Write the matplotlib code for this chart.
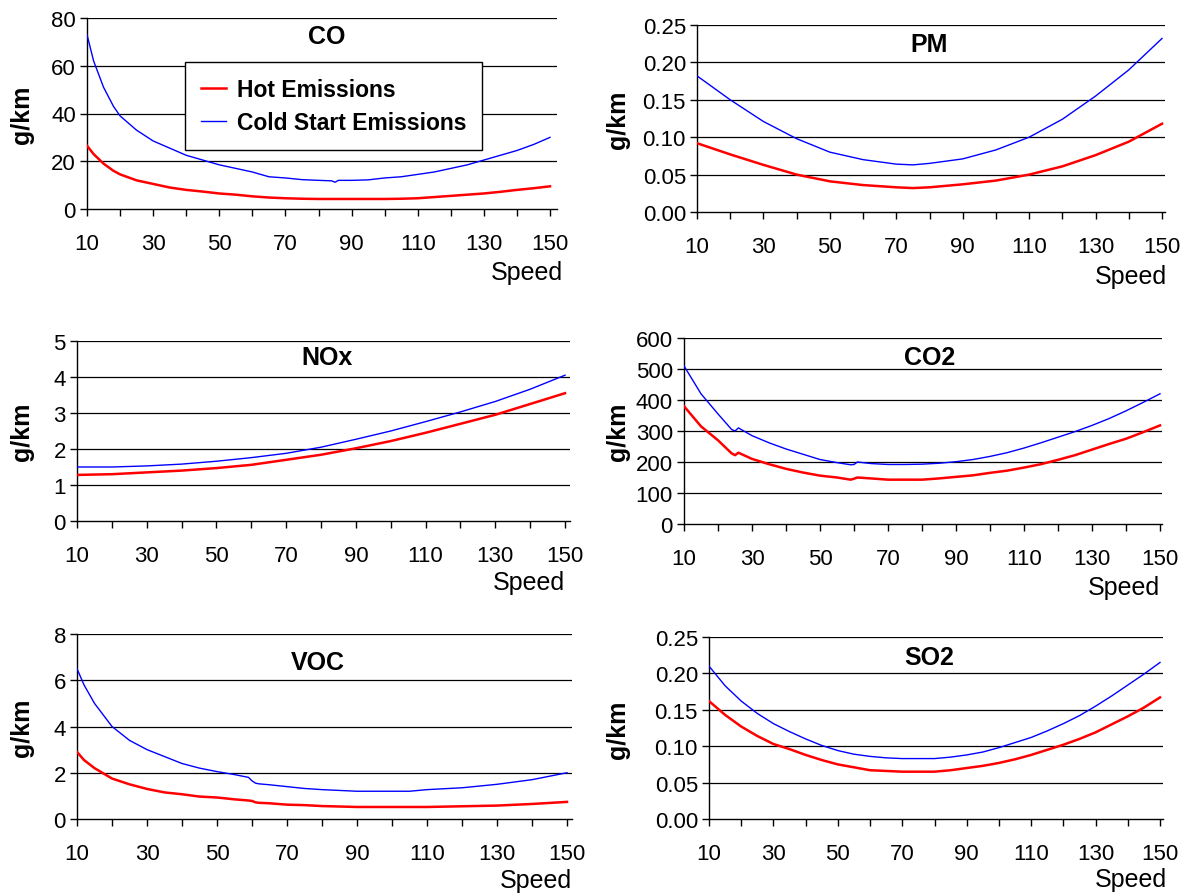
import matplotlib.pyplot as plt

plt.rcParams['font.family'] = ['Liberation Sans', 'DejaVu Sans']

W, H = 1191, 895

# ---- data (g/km vs speed km/h) ----
co_speed = [10, 12, 15, 18, 20, 25, 30, 35, 40, 45, 50, 55, 60, 65, 70, 75, 80, 84, 85, 86,
            90, 95, 100, 105, 110, 115, 120, 125, 130, 135, 140, 145, 150]
co_hot = [26.5, 23, 19, 16, 14.5, 12, 10.5, 9, 8, 7.3, 6.5, 6, 5.3, 4.8, 4.5, 4.3, 4.2, 4.2, 4.2, 4.2,
          4.2, 4.2, 4.2, 4.3, 4.5, 5, 5.5, 6, 6.5, 7.2, 8, 8.7, 9.5]
co_cold = [73, 62, 51, 43, 39, 33, 28.5, 25.5, 22.5, 20.5, 18.5, 17, 15.5, 13.5, 13, 12.3, 12, 11.8, 11.2, 12,
           12, 12.2, 13, 13.5, 14.5, 15.5, 17, 18.5, 20.5, 22.5, 24.5, 27, 30]

pm_speed = [10, 20, 30, 40, 50, 60, 70, 75, 80, 90, 100, 110, 120, 130, 140, 150]
pm_hot = [0.092, 0.077, 0.063, 0.050, 0.041, 0.036, 0.033, 0.032, 0.033, 0.037, 0.042, 0.050,
          0.061, 0.076, 0.094, 0.118]
pm_cold = [0.182, 0.150, 0.121, 0.098, 0.080, 0.070, 0.064, 0.063, 0.065, 0.071, 0.083, 0.100,
           0.124, 0.155, 0.190, 0.232]

nox_speed = [10, 20, 30, 40, 50, 60, 70, 80, 90, 100, 110, 120, 130, 140, 150]
nox_hot = [1.28, 1.30, 1.35, 1.40, 1.47, 1.56, 1.70, 1.84, 2.02, 2.22, 2.45, 2.70, 2.95, 3.25, 3.55]
nox_cold = [1.50, 1.50, 1.53, 1.58, 1.66, 1.76, 1.88, 2.05, 2.27, 2.50, 2.76, 3.03, 3.32, 3.66, 4.05]

co2_speed = [10, 15, 20, 24, 25, 26, 30, 35, 40, 45, 50, 55, 59, 60, 61, 65, 70, 75, 80, 85,
             90, 95, 100, 105, 110, 115, 120, 125, 130, 135, 140, 145, 150]
co2_hot = [380, 315, 270, 228, 222, 230, 210, 193, 178, 166, 156, 150, 143, 146, 150, 147, 143, 143, 143, 147,
           152, 157, 165, 172, 182, 193, 207, 222, 240, 258, 275, 296, 318]
co2_cold = [510, 420, 355, 305, 300, 310, 285, 262, 242, 225, 208, 198, 191, 192, 200, 195, 192, 192, 193, 196,
            201, 208, 218, 230, 245, 262, 280, 298, 318, 340, 365, 392, 420]

voc_speed = [10, 12, 15, 20, 25, 30, 35, 40, 45, 50, 55, 59, 60, 61, 62, 65, 70, 75, 80, 90,
             100, 105, 110, 120, 130, 140, 150]
voc_hot = [2.9, 2.55, 2.2, 1.75, 1.5, 1.3, 1.15, 1.07, 0.97, 0.93, 0.85, 0.8, 0.78, 0.72, 0.7, 0.68, 0.62, 0.6, 0.56, 0.52,
           0.52, 0.52, 0.52, 0.55, 0.58, 0.65, 0.74]
voc_cold = [6.5, 5.8, 5.0, 4.0, 3.4, 3.0, 2.7, 2.4, 2.2, 2.05, 1.92, 1.8, 1.65, 1.55, 1.52, 1.48, 1.4, 1.32, 1.27, 1.2,
            1.2, 1.2, 1.27, 1.35, 1.5, 1.7, 2.0]

so2_speed = [10, 15, 20, 25, 30, 35, 40, 45, 50, 55, 60, 65, 70, 75, 80, 85, 90, 95, 100, 105,
             110, 115, 120, 125, 130, 135, 140, 145, 150]
so2_hot = [0.162, 0.143, 0.127, 0.114, 0.103, 0.096, 0.088, 0.081, 0.075, 0.071, 0.067, 0.066, 0.065, 0.065,
           0.065, 0.067, 0.070, 0.073, 0.077, 0.082, 0.088, 0.095, 0.102, 0.110, 0.119, 0.130, 0.141, 0.153, 0.167]
so2_cold = [0.210, 0.183, 0.162, 0.145, 0.131, 0.120, 0.110, 0.101, 0.094, 0.089, 0.086, 0.084, 0.083, 0.083,
            0.083, 0.085, 0.088, 0.092, 0.098, 0.105, 0.112, 0.121, 0.131, 0.142, 0.155, 0.169, 0.184, 0.199, 0.215]

x_ticks = list(range(10, 151, 10))
x_labels = [str(v) if (v - 10) % 20 == 0 else '' for v in x_ticks]

# (title, x, hot, cold, yticks, yfmt, px box: x10, x150, right, top, bottom, text positions)
panels = [
    ('CO', co_speed, co_hot, co_cold, [0, 20, 40, 60, 80], '{:.0f}',
     (87, 550, 557, 19, 210), (327, 37), (22, 115), (563, 273)),
    ('PM', pm_speed, pm_hot, pm_cold, [0, 0.05, 0.10, 0.15, 0.20, 0.25], '{:.2f}',
     (697, 1162, 1165, 26, 213), (929, 45), (618, 120), (1167, 277)),
    ('NOx', nox_speed, nox_hot, nox_cold, [0, 1, 2, 3, 4, 5], '{:.0f}',
     (77, 565, 570, 342, 522), (327, 358), (22, 432), (565, 583)),
    ('CO2', co2_speed, co2_hot, co2_cold, [0, 100, 200, 300, 400, 500, 600], '{:.0f}',
     (684, 1160, 1162, 339, 525), (930, 358), (618, 432), (1160, 588)),
    ('VOC', voc_speed, voc_hot, voc_cold, [0, 2, 4, 6, 8], '{:.0f}',
     (77, 567, 572, 635, 820), (318, 663), (22, 728), (572, 881)),
    ('SO2', so2_speed, so2_hot, so2_cold, [0, 0.05, 0.10, 0.15, 0.20, 0.25], '{:.2f}',
     (709, 1160, 1163, 638, 820), (929, 658), (618, 730), (1167, 880)),
]

fig = plt.figure(figsize=(W / 100, H / 100), dpi=100)

for title, xs, hot, cold, yt, fmt, box, tpos, ypos, spos in panels:
    x10, x150, right, top, bottom = box
    ax = fig.add_axes([x10 / W, 1 - bottom / H, (right - x10) / W, (bottom - top) / H])
    ax.plot(xs, hot, color='#ff0000', lw=1.8, label='Hot Emissions', zorder=3)
    ax.plot(xs, cold, color='#0000ff', lw=1.0, label='Cold Start Emissions', zorder=3)
    ax.set_xlim(10, 10 + 140 * (right - x10) / (x150 - x10))
    ax.set_ylim(yt[0], yt[-1])
    ax.set_yticks(yt)
    ax.set_yticklabels([fmt.format(v) for v in yt])
    ax.set_xticks(x_ticks)
    ax.set_xticklabels(x_labels)
    ax.tick_params(axis='x', direction='out', length=5, width=1, pad=12, labelsize=16)
    ax.tick_params(axis='y', direction='out', length=5, width=1, pad=3, labelsize=16)
    for y in yt[1:]:
        ax.axhline(y, color='black', lw=0.9, zorder=1)
    for s in ['top', 'right']:
        ax.spines[s].set_visible(False)
    for s in ['left', 'bottom']:
        ax.spines[s].set_linewidth(1)
    ax.patch.set_alpha(0)

    fig.text(tpos[0] / W, 1 - tpos[1] / H, title, ha='center', va='center',
             fontsize=18, fontweight='bold')
    fig.text(ypos[0] / W, 1 - ypos[1] / H, 'g/km', ha='center', va='center',
             rotation=90, fontsize=18, fontweight='bold')
    fig.text(spos[0] / W, 1 - spos[1] / H, 'Speed', ha='right', va='center', fontsize=18)

    if title == 'CO':
        leg = ax.legend(loc='upper left', bbox_to_anchor=(185 / W, 1 - 63 / H),
                        bbox_transform=fig.transFigure, fancybox=False, framealpha=1,
                        edgecolor='black', prop={'weight': 'bold', 'size': 16.5},
                        handlelength=1.1, handletextpad=0.45, borderpad=0.7,
                        labelspacing=0.45, borderaxespad=0)
        leg.get_frame().set_linewidth(1)

fig.savefig('out.png', dpi=100)
